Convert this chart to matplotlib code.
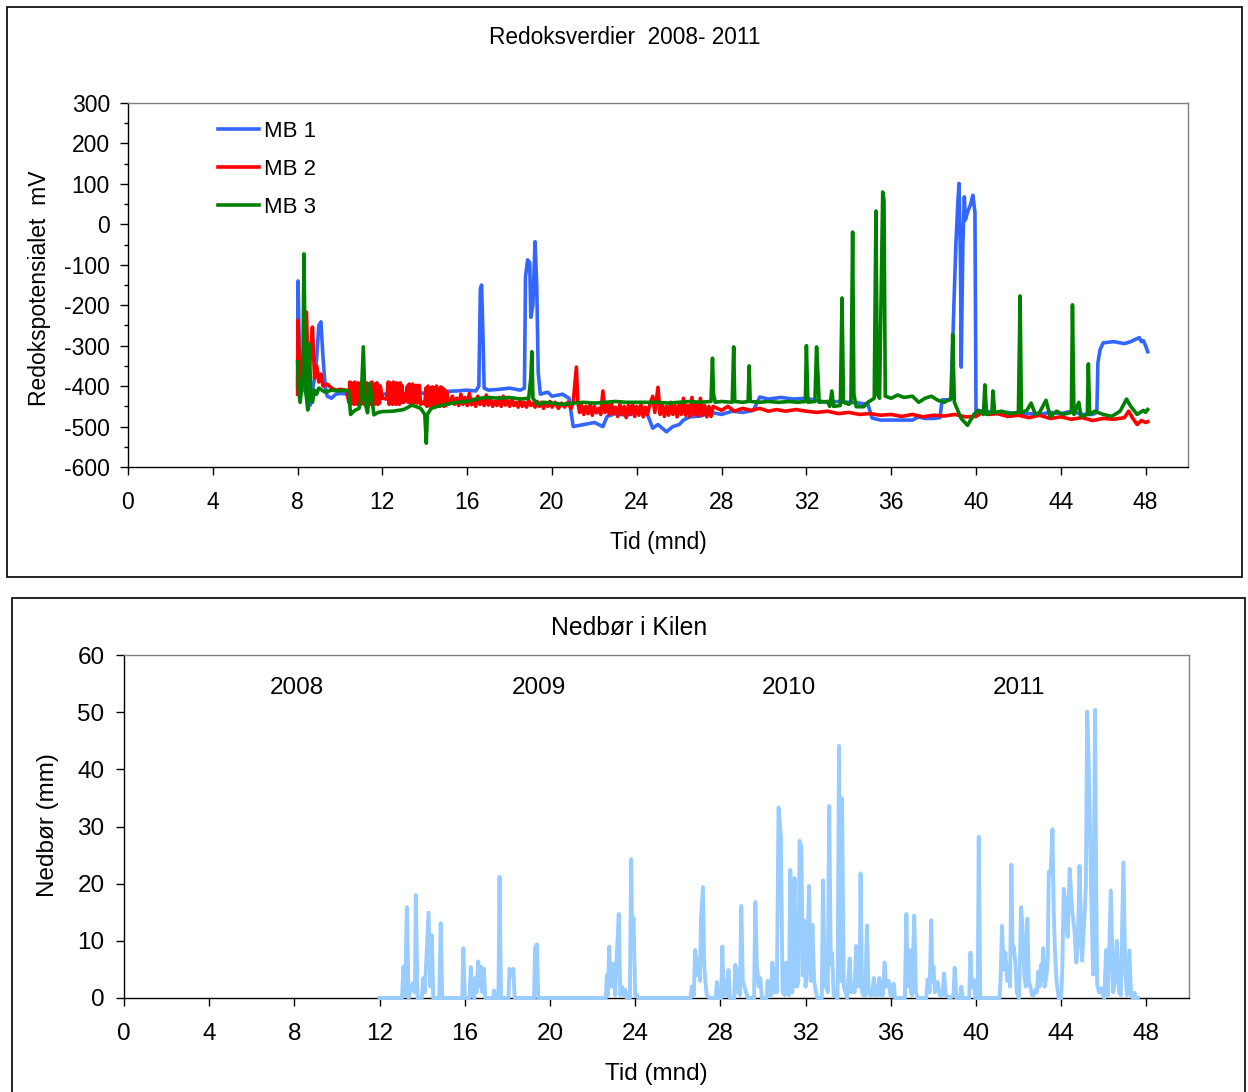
import matplotlib
matplotlib.use("Agg")
import matplotlib.pyplot as plt
from matplotlib.patches import Rectangle

plt.rcParams['font.family'] = ['Liberation Sans', 'DejaVu Sans']
plt.rcParams['axes.unicode_minus'] = False

# ---- Redox potential (mV) per sensor, time in months ----
mb1_t = [8.0, 8.02, 8.08, 8.15, 8.25, 8.4, 8.5, 8.6, 8.7, 8.8, 8.9, 9.0, 9.1, 9.2, 9.3, 9.4, 9.6, 9.8,
         10.0, 10.5, 11.0, 11.5, 12.0, 12.5, 13.0, 13.5, 14.0, 14.5, 15.0, 15.5, 16.0, 16.4, 16.55,
         16.62, 16.68, 16.75, 16.8, 17.0, 17.5, 18.0, 18.5, 18.7, 18.75, 18.85, 18.95, 19.0, 19.1,
         19.2, 19.28, 19.35, 19.45, 19.8, 20.0, 20.5, 20.8, 21.0, 21.5, 22.0, 22.4, 22.6, 23.0, 23.5,
         24.0, 24.5, 24.75, 25.0, 25.4, 25.7, 26.0, 26.2, 26.5, 27.0, 27.5, 28.0, 28.5, 29.0, 29.5,
         29.8, 30.2, 30.8, 31.4, 32.0, 32.5, 33.0, 33.5, 34.0, 34.5, 34.9, 35.1, 35.5, 36.0, 36.5,
         37.0, 37.3, 37.6, 38.0, 38.3, 38.4, 38.8, 38.9, 38.95, 39.05, 39.15, 39.2, 39.27, 39.3,
         39.38, 39.45, 39.5, 39.6, 39.75, 39.85, 39.95, 40.0, 40.5, 41.0, 41.5, 42.0, 42.5, 43.0,
         43.5, 44.0, 44.5, 45.0, 45.5, 45.7, 45.75, 45.85, 46.0, 46.5, 47.0, 47.3, 47.5, 47.7, 47.8,
         47.9, 48.0, 48.1]
mb1_v = [-400, -140, -300, -380, -400, -420, -395, -447, -410, -380, -330, -250, -241, -330, -400,
         -425, -430, -420, -418, -420, -425, -420, -420, -418, -420, -415, -418, -415, -413, -412,
         -410, -412, -400, -160, -150, -290, -405, -410, -408, -405, -410, -405, -130, -88, -95,
         -230, -200, -43, -150, -367, -420, -415, -425, -420, -430, -500, -495, -490, -500, -475,
         -468, -472, -466, -470, -504, -495, -513, -500, -495, -484, -476, -474, -465, -470, -462,
         -465, -460, -427, -432, -428, -432, -430, -436, -440, -438, -440, -442, -445, -479, -484,
         -484, -484, -484, -476, -480, -480, -478, -434, -434, -300, -212, -50, 60, 101, -100, -353,
         -50, 68, 11, 30, 50, 72, 30, -460, -462, -468, -465, -470, -468, -470, -465, -468, -462,
         -470, -470, -465, -343, -310, -293, -290, -295, -290, -285, -280, -290, -288, -300, -315]

mb2_t = [8.0, 8.02, 8.1, 8.2, 8.3, 8.42, 8.5, 8.6, 8.7, 8.8,
         8.9, 9.0, 9.1, 9.2, 9.4, 9.6, 9.8, 10.0, 10.3, 10.42,
         10.46, 10.5, 10.54, 10.58, 10.62, 10.66, 10.7, 10.74, 10.78, 10.82,
         10.86, 10.9, 10.94, 10.98, 11.02, 11.06, 11.1, 11.14, 11.18, 11.22,
         11.26, 11.3, 11.34, 11.38, 11.42, 11.46, 11.5, 11.54, 11.58, 11.62,
         11.66, 11.7, 11.74, 11.78, 11.82, 11.86, 11.9, 12.0, 12.2, 12.28,
         12.32, 12.36, 12.4, 12.44, 12.48, 12.52, 12.56, 12.6, 12.64, 12.68,
         12.72, 12.76, 12.8, 12.84, 12.88, 12.92, 13.0, 13.1, 13.18, 13.22,
         13.26, 13.3, 13.34, 13.38, 13.42, 13.46, 13.5, 13.54, 13.58, 13.62,
         13.66, 13.7, 13.74, 13.8, 13.9, 14.0, 14.05, 14.1, 14.15, 14.2,
         14.25, 14.3, 14.35, 14.4, 14.45, 14.5, 14.55, 14.6, 14.65, 14.7,
         14.75, 14.8, 14.85, 14.9, 14.95, 15.0, 15.05, 15.1, 15.2, 15.3,
         15.4, 15.5, 15.6, 15.7, 15.8, 15.9, 16.0, 16.1, 16.2, 16.3,
         16.4, 16.5, 16.6, 16.7, 16.8, 16.9, 17.0, 17.1, 17.2, 17.3,
         17.4, 17.5, 17.6, 17.7, 17.8, 17.9, 18.0, 18.1, 18.2, 18.3,
         18.4, 18.5, 18.6, 18.7, 18.8, 18.9, 19.0, 19.1, 19.2, 19.3,
         19.4, 19.5, 19.6, 19.7, 19.8, 19.9, 20.0, 20.15, 20.3, 20.45,
         20.6, 20.75, 20.9, 21.0, 21.15, 21.22, 21.3, 21.4, 21.5, 21.6,
         21.7, 21.8, 21.9, 22.0, 22.1, 22.2, 22.3, 22.4, 22.5, 22.6,
         22.7, 22.8, 22.9, 23.0, 23.1, 23.2, 23.3, 23.4, 23.5, 23.6,
         23.7, 23.8, 23.9, 24.0, 24.1, 24.2, 24.3, 24.4, 24.5, 24.6,
         24.75, 24.85, 25.0, 25.1, 25.2, 25.3, 25.4, 25.5, 25.6, 25.7,
         25.8, 25.9, 26.0, 26.1, 26.2, 26.3, 26.4, 26.5, 26.6, 26.7,
         26.8, 26.9, 27.0, 27.1, 27.2, 27.3, 27.4, 27.5, 27.6, 27.8,
         28.0, 28.3, 28.6, 29.0, 29.4, 29.8, 30.2, 30.6, 31.0, 31.5,
         32.0, 32.5, 33.0, 33.5, 34.0, 34.5, 35.0, 35.5, 36.0, 36.5,
         37.0, 37.5, 38.0, 38.5, 39.0, 39.5, 40.0, 40.3, 40.6, 41.0,
         41.5, 42.0, 42.5, 43.0, 43.5, 44.0, 44.5, 45.0, 45.5, 46.0,
         46.5, 47.0, 47.2, 47.4, 47.6, 47.8, 48.0, 48.1]
mb2_v = [-420, -237, -380, -330, -400, -217, -380, -330, -254, -380,
         -350, -390, -370, -400, -395, -405, -410, -408, -410, -440,
         -390, -445, -392, -438, -395, -445, -390, -442, -400, -445,
         -392, -440, -398, -445, -390, -442, -400, -445, -395, -440,
         -392, -445, -400, -440, -395, -445, -390, -442, -400, -445,
         -395, -440, -392, -445, -398, -442, -400, -430, -432, -390,
         -445, -392, -440, -395, -445, -390, -442, -398, -445, -392,
         -440, -395, -445, -392, -440, -398, -440, -435, -400, -440,
         -395, -442, -398, -440, -395, -445, -400, -440, -398, -442,
         -400, -440, -398, -445, -440, -445, -405, -450, -400, -448,
         -405, -450, -402, -448, -405, -450, -400, -448, -408, -450,
         -402, -448, -405, -450, -410, -448, -415, -445, -440, -425,
         -445, -430, -448, -420, -445, -428, -448, -418, -446, -432,
         -450, -425, -445, -435, -448, -422, -447, -430, -450, -438,
         -448, -428, -450, -425, -447, -436, -450, -430, -448, -440,
         -452, -432, -450, -440, -452, -435, -448, -442, -452, -438,
         -450, -440, -455, -442, -450, -438, -452, -440, -455, -442,
         -452, -440, -455, -440, -353, -440, -465, -448, -470, -450,
         -468, -445, -472, -450, -466, -455, -470, -412, -465, -445,
         -470, -440, -468, -452, -475, -445, -470, -450, -478, -448,
         -470, -442, -475, -450, -472, -445, -476, -452, -470, -448,
         -425, -465, -403, -470, -445, -475, -450, -472, -440, -470,
         -448, -476, -445, -470, -430, -472, -448, -475, -428, -470,
         -445, -474, -430, -472, -448, -476, -450, -475, -450, -455,
         -460, -450, -462, -455, -460, -455, -462, -458, -462, -458,
         -462, -465, -462, -468, -465, -470, -468, -472, -470, -475,
         -470, -476, -472, -474, -470, -476, -475, -465, -470, -468,
         -475, -472, -478, -472, -480, -476, -482, -478, -485, -480,
         -482, -478, -462, -480, -495, -485, -490, -488]

mb3_t = [8.0, 8.05, 8.12, 8.2, 8.25, 8.3, 8.35, 8.4, 8.48, 8.55, 8.62, 8.7, 8.8, 8.9, 9.0, 9.3, 9.6,
         9.9, 10.2, 10.4, 10.5, 10.7, 10.9, 11.0, 11.1, 11.18, 11.3, 11.4, 11.5, 11.6, 11.8, 12.0,
         12.5, 13.0, 13.4, 13.8, 14.0, 14.07, 14.12, 14.3, 14.6, 15.0, 15.5, 16.0, 16.6, 17.0, 17.5,
         18.0, 18.5, 18.9, 19.0, 19.05, 19.1, 19.3, 19.6, 20.0, 20.5, 21.0, 21.5, 22.0, 22.5, 23.0,
         23.5, 24.0, 24.5, 25.0, 25.5, 26.0, 26.5, 27.0, 27.5, 27.57, 27.62, 27.7, 28.0, 28.5, 28.57,
         28.62, 29.0, 29.25, 29.3, 29.35, 29.8, 30.2, 30.7, 31.2, 31.6, 31.95, 32.0, 32.07, 32.4,
         32.48, 32.55, 32.6, 33.0, 33.1, 33.2, 33.28, 33.6, 33.68, 33.75, 34.0, 34.1, 34.18, 34.24,
         34.35, 34.7, 34.9, 35.2, 35.28, 35.35, 35.45, 35.6, 35.66, 35.72, 36.0, 36.3, 36.6, 37.0,
         37.3, 37.6, 37.9, 38.2, 38.5, 38.85, 38.9, 38.98, 39.3, 39.6, 39.9, 40.1, 40.35, 40.42,
         40.5, 40.75, 40.8, 40.88, 41.2, 41.6, 42.0, 42.08, 42.14, 42.4, 42.6, 42.8, 43.0, 43.3,
         43.5, 43.8, 44.1, 44.5, 44.55, 44.62, 44.85, 44.95, 45.25, 45.3, 45.36, 45.6, 46.0, 46.4,
         46.8, 47.1, 47.3, 47.6, 47.9, 48.0, 48.1]
mb3_v = [-340, -410, -440, -400, -350, -73, -300, -420, -459, -296, -420, -440, -410, -420, -405,
         -415, -410, -412, -410, -412, -470, -460, -455, -430, -303, -440, -466, -393, -430, -471,
         -465, -463, -462, -458, -447, -455, -470, -541, -470, -455, -450, -445, -440, -438, -430,
         -428, -430, -428, -432, -430, -380, -315, -430, -445, -440, -442, -445, -442, -440, -442,
         -440, -438, -440, -440, -440, -440, -442, -440, -438, -440, -438, -331, -420, -440, -438,
         -440, -303, -438, -440, -438, -350, -438, -440, -438, -440, -438, -440, -438, -300, -440,
         -438, -303, -377, -440, -438, -450, -412, -450, -448, -182, -440, -445, -440, -19, -420,
         -451, -451, -440, -430, 33, -420, -430, 80, 60, -425, -430, -422, -428, -425, -440, -430,
         -425, -435, -440, -430, -273, -440, -480, -497, -470, -460, -470, -397, -470, -465, -412,
         -465, -462, -468, -465, -177, -465, -460, -442, -470, -465, -435, -475, -462, -470, -465,
         -199, -470, -440, -475, -470, -345, -470, -462, -470, -475, -462, -432, -450, -470, -460,
         -465, -458]

# ---- Daily precipitation (mm), time in months ----
rain_t = [12.0, 13.05, 13.12, 13.2, 13.28, 13.36, 13.55, 13.6, 13.66, 13.7, 13.78, 13.98, 14.05,
          14.12, 14.3, 14.38, 14.45, 14.52, 14.8, 14.87, 14.94, 15.88, 15.93, 16.0, 16.22, 16.28,
          16.35, 16.45, 16.49, 16.55, 16.63, 16.68, 16.75, 16.82, 16.9, 16.96, 17.32, 17.38, 17.45,
          17.58, 17.63, 17.7, 18.05, 18.1, 18.19, 18.28, 18.34, 19.25, 19.3, 19.38, 19.45, 22.62,
          22.67, 22.72, 22.78, 22.84, 22.9, 22.96, 23.0, 23.06, 23.14, 23.23, 23.3, 23.37, 23.45,
          23.53, 23.6, 23.75, 23.81, 23.86, 23.92, 24.0, 24.08, 24.15, 26.6, 26.66, 26.75, 26.82,
          26.9, 26.98, 27.04, 27.09, 27.18, 27.24, 27.29, 27.36, 27.5, 27.78, 27.84, 27.9, 28.04,
          28.09, 28.16, 28.23, 28.3, 28.38, 28.45, 28.65, 28.7, 28.78, 28.85, 28.92, 28.98, 29.05,
          29.2, 29.3, 29.58, 29.64, 29.71, 29.8, 29.87, 29.95, 30.17, 30.22, 30.3, 30.38, 30.44,
          30.52, 30.58, 30.65, 30.73, 30.84, 30.92, 31.02, 31.09, 31.16, 31.22, 31.28, 31.38, 31.48,
          31.55, 31.6, 31.66, 31.72, 31.8, 31.87, 31.94, 32.0, 32.07, 32.16, 32.24, 32.32, 32.4,
          32.46, 32.55, 32.76, 32.82, 32.9, 32.96, 33.04, 33.11, 33.18, 33.24, 33.32, 33.5, 33.57,
          33.64, 33.71, 33.79, 33.87, 33.95, 34.07, 34.14, 34.22, 34.3, 34.37, 34.43, 34.49, 34.54,
          34.58, 34.65, 34.72, 34.8, 34.88, 34.96, 35.04, 35.12, 35.2, 35.28, 35.38, 35.46, 35.54,
          35.63, 35.71, 35.78, 35.9, 35.98, 36.05, 36.13, 36.2, 36.66, 36.73, 36.8, 36.88, 36.94,
          37.0, 37.1, 37.18, 37.26, 37.66, 37.73, 37.82, 37.9, 37.95, 38.0, 38.07, 38.2, 38.3,
          38.43, 38.5, 38.58, 38.8, 38.94, 39.0, 39.08, 39.25, 39.31, 39.38, 39.68, 39.74, 39.8,
          39.89, 39.97, 40.08, 40.13, 40.2, 41.1, 41.15, 41.22, 41.3, 41.38, 41.46, 41.54, 41.6,
          41.66, 41.72, 41.77, 41.85, 41.92, 42.02, 42.12, 42.21, 42.27, 42.34, 42.41, 42.48, 42.55,
          42.63, 42.72, 42.79, 42.86, 42.92, 42.98, 43.05, 43.1, 43.15, 43.22, 43.3, 43.36, 43.42,
          43.5, 43.59, 43.65, 43.7, 43.78, 43.88, 44.0, 44.05, 44.12, 44.21, 44.3, 44.4, 44.51,
          44.62, 44.71, 44.79, 44.86, 44.93, 44.98, 45.09, 45.16, 45.22, 45.29, 45.35, 45.4, 45.5,
          45.59, 45.64, 45.69, 45.78, 45.89, 45.96, 46.02, 46.11, 46.2, 46.33, 46.44, 46.52, 46.61,
          46.67, 46.72, 46.8, 46.92, 47.01, 47.09, 47.2, 47.28, 47.36, 47.44, 47.5, 47.6]
rain_mm = [0, 0, 5.5, 0.5, 15.9, 0, 2.5, 2.7, 1.0, 18.0, 0, 0, 3.5, 1.0, 14.9, 2, 11.0, 0, 0, 13.1,
           0, 0, 8.7, 0, 0, 5.4, 0.5, 0, 3.5, 1, 6.4, 2, 5.5, 1, 5.1, 0, 0, 1.3, 0, 0, 21.2, 0, 0,
           5.1, 4.0, 5.1, 0, 0, 8.7, 9.4, 0, 0, 4.0, 0.5, 9.0, 2, 6.0, 2, 5.9, 0.5, 7.8, 14.7, 0.5,
           2.0, 0.5, 1.5, 0, 0, 24.3, 10, 14.0, 0.5, 0.5, 0, 0, 2.0, 0.5, 8.4, 4, 6.6, 3, 13.8,
           19.4, 6, 3.1, 0.5, 0, 0, 2.8, 0, 0, 9.0, 0.5, 3.1, 0.5, 4.9, 0, 0, 5.8, 1, 5.0, 0.5,
           16.1, 3, 1.0, 0, 0, 16.8, 5.8, 2, 3.5, 0, 0, 3.0, 0.5, 0.5, 6.2, 1, 5.0, 1, 33.3, 28.2,
           1, 0.5, 6.2, 1, 0.5, 22.4, 1, 21.0, 2, 2.0, 3, 27.5, 26.4, 4, 13.5, 2, 5.8, 19.6, 3,
           12.8, 3, 1.6, 0, 0, 20.6, 2, 3.1, 1, 33.6, 6, 7.9, 0.5, 0, 44.1, 3, 34.9, 2, 1.0, 0, 6.9,
           1, 2, 1, 9.1, 2, 5.5, 2, 21.8, 1, 0.5, 0.5, 12.7, 1, 0.5, 0.5, 3.5, 0.5, 0.5, 3.5, 0.5,
           0.5, 6.2, 2, 3.0, 0.5, 0.5, 2.5, 0, 0, 14.7, 2, 8.4, 1, 0.5, 14.4, 1, 0, 0, 3.2, 1, 13.6,
           3, 5.6, 1, 2.8, 0.5, 0.5, 4.3, 0.5, 0, 0.5, 5.3, 0, 0, 2.0, 0, 0, 7.9, 2, 3.2, 0, 0,
           28.2, 0, 0, 2.8, 12.6, 5, 7.9, 3, 5.5, 2, 23.3, 8, 9.0, 6.0, 1, 0, 15.9, 10.7, 4.0, 2,
           13.9, 3, 2.0, 0.5, 0.5, 1.5, 1, 4.6, 2, 5.8, 3, 8.7, 2, 3.7, 6, 22.1, 21.5, 29.5, 15,
           9.0, 3, 0, 0, 5, 19.1, 16.4, 10.7, 22.6, 15.4, 12.0, 6.2, 10, 23.1, 12, 6.5, 14.0, 20,
           50.1, 41.3, 30, 19.5, 4.1, 50.4, 20, 2.3, 1, 1.7, 0.5, 0, 8.4, 0.5, 18.8, 1, 3, 10.0,
           4, 1, 0.5, 23.7, 4.4, 0.5, 8.3, 0.5, 0, 0.9, 0, 0]

series_names = ["MB 1", "MB 2", "MB 3"]
series_colors = ["#3366FF", "#FF0000", "#008000"]
year_labels = ["2008", "2009", "2010", "2011"]
year_pos = [8.1, 19.5, 31.2, 42.0]

W, H = 1248, 1092
fig = plt.figure(figsize=(W / 100, H / 100), dpi=100)


def fx(px):
    return px / W


def fy(py):
    return 1 - py / H


# outer panel frames
fig.patches.append(Rectangle((fx(7), fy(577)), fx(1242) - fx(7), fy(7) - fy(577),
                             transform=fig.transFigure, fill=False, ec="black", lw=1.2))
fig.patches.append(Rectangle((fx(12), -0.01), fx(1245) - fx(12), fy(598) + 0.01,
                             transform=fig.transFigure, fill=False, ec="black", lw=1.2))


def style_axes(ax, fs):
    ax.spines["top"].set_color("#808080")
    ax.spines["right"].set_color("#808080")
    ax.spines["left"].set_color("black")
    ax.spines["bottom"].set_color("black")
    for s in ax.spines.values():
        s.set_linewidth(1.0)
    ax.tick_params(which="major", direction="out", length=6, width=1, labelsize=fs)
    ax.tick_params(which="minor", direction="out", length=3, width=1)
    ax.tick_params(top=False, right=False)


# ---- top panel: redox ----
ax1 = fig.add_axes([fx(128), fy(467), fx(1188) - fx(128), fy(103) - fy(467)])
for t, v, name, c in zip([mb1_t, mb2_t, mb3_t], [mb1_v, mb2_v, mb3_v], series_names, series_colors):
    ax1.plot(t, v, color=c, lw=2.6, label=name, solid_joinstyle="round")
ax1.set_xlim(0, 50)
ax1.set_ylim(-600, 300)
ax1.set_xticks(range(0, 49, 4))
ax1.set_yticks(range(-600, 301, 100))
ax1.set_yticks(range(-550, 300, 100), minor=True)
style_axes(ax1, 16.5)
ax1.tick_params(axis="x", pad=11)
ax1.tick_params(axis="y", pad=7)
ax1.text((40 - 128) / 1060, 0.49, "Redokspotensialet  mV", transform=ax1.transAxes,
         rotation=90, ha="center", va="center", fontsize=16.5)
ax1.text(0.5, (467 - 542) / 364, "Tid (mnd)", transform=ax1.transAxes, ha="center",
         va="center", fontsize=16.5)
leg = ax1.legend(loc="upper left", bbox_to_anchor=(0.085, 0.95), frameon=False, fontsize=16,
                 handlelength=1.85, handletextpad=0.2, labelspacing=0.75, borderpad=0,
                 borderaxespad=0)
fig.text(fx(625), fy(38), "Redoksverdier  2008- 2011", ha="center", va="center", fontsize=16.3)

# ---- bottom panel: precipitation ----
ax2 = fig.add_axes([fx(124), fy(998), fx(1189) - fx(124), fy(655) - fy(998)])
ax2.plot(rain_t, rain_mm, color="#99CCFF", lw=2.8, zorder=3, clip_on=False,
         solid_joinstyle="round")
ax2.set_xlim(0, 50)
ax2.set_ylim(0, 60)
ax2.set_xticks(range(0, 49, 4))
ax2.set_yticks(range(0, 61, 10))
style_axes(ax2, 17.5)
ax2.tick_params(axis="x", pad=12)
ax2.tick_params(axis="y", pad=8)
ax2.text((48 - 124) / 1065, 0.505, "Nedbør (mm)", transform=ax2.transAxes,
         rotation=90, ha="center", va="center", fontsize=17.5)
ax2.text(0.5, (998 - 1074) / 343, "Tid (mnd)", transform=ax2.transAxes, ha="center",
         va="center", fontsize=17.5)
for lab, xp in zip(year_labels, year_pos):
    ax2.text(xp, 54.2, lab, ha="center", va="center", fontsize=17.5)
fig.text(fx(629), fy(628), "Nedbør i Kilen", ha="center", va="center", fontsize=17.8)

fig.savefig("out.png", dpi=100)
